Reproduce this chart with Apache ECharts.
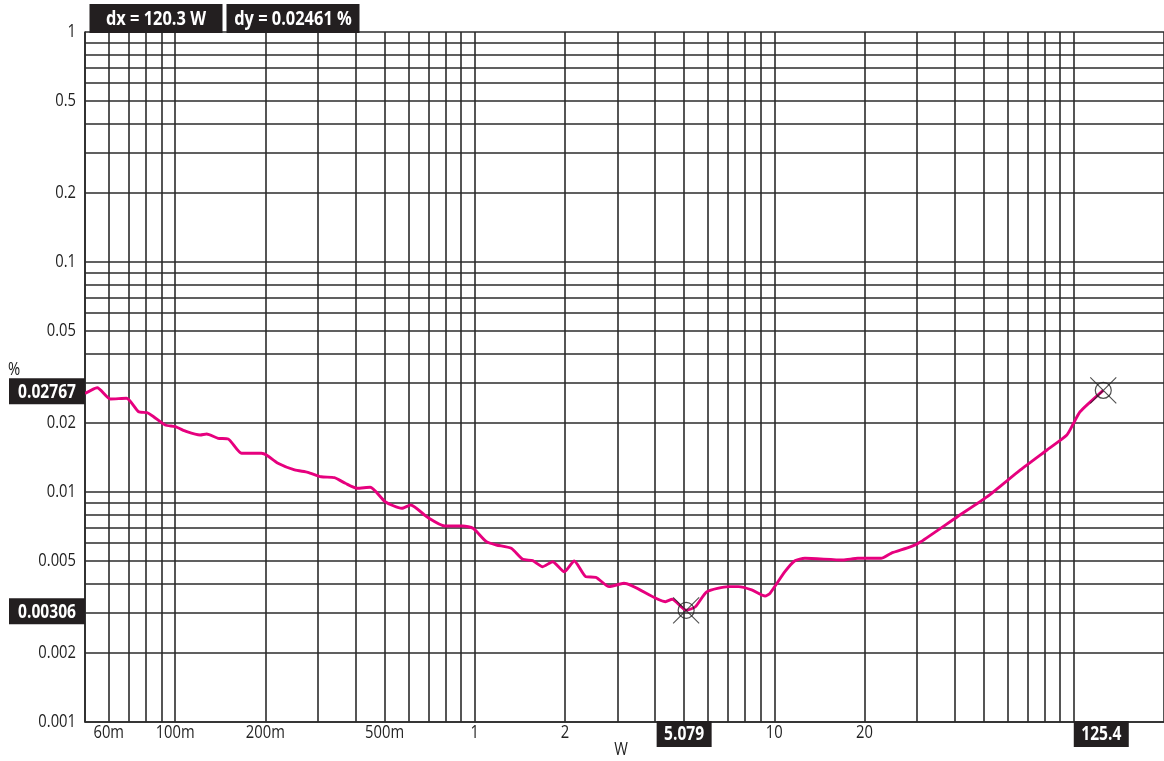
<!DOCTYPE html>
<html>
<head>
<meta charset="utf-8">
<script src="https://cdn.jsdelivr.net/npm/echarts@6/dist/echarts.min.js"></script>
<style>
  html, body { margin: 0; background: #fff; }
  #chart { width: 1164px; height: 761px; }
</style>
</head>
<body>
<div id="chart"></div>
<script>
// THD+N (%) vs output power (W)
const powerW = [0.05, 0.0549, 0.0608, 0.0688, 0.0755, 0.0805, 0.0847, 0.0926, 0.1, 0.1094,
  0.1211, 0.1274, 0.1392, 0.1503, 0.1666, 0.1941, 0.2017, 0.2204, 0.2504, 0.2773,
  0.3072, 0.3401, 0.3699, 0.4046, 0.4478, 0.5024, 0.5707, 0.6114, 0.6912, 0.795,
  0.9145, 0.987, 1.094, 1.181, 1.324, 1.447, 1.562, 1.686, 1.82, 1.991,
  2.149, 2.35, 2.537, 2.809, 3.15, 4.334, 4.559, 5.079, 5.452, 5.959,
  7.034, 7.592, 8.406, 9.314, 9.676, 10.85, 11.72, 12.65, 16.95, 19.01,
  22.73, 24.53, 28.58, 30.86, 40.87, 51.4, 66.32, 81.34, 94.78, 99.77,
  104.9, 125.4]
const thdPct = [0.0268, 0.02841, 0.02537, 0.02555, 0.02234, 0.02212, 0.02125, 0.01956, 0.01923, 0.01829,
  0.01769, 0.01787, 0.01712, 0.017, 0.01473, 0.01473, 0.01448, 0.01333, 0.01247, 0.01218,
  0.01165, 0.01154, 0.01091, 0.01038, 0.01048, 0.009075, 0.008495, 0.008781, 0.007809, 0.007115,
  0.007115, 0.006953, 0.006081, 0.005884, 0.005692, 0.005097, 0.005026, 0.004733, 0.004977, 0.004502,
  0.005012, 0.004282, 0.004256, 0.003876, 0.004009, 0.003335, 0.003416, 0.00306, 0.003171, 0.003686,
  0.003876, 0.003876, 0.00375, 0.00353, 0.003627, 0.004502, 0.005026, 0.005148, 0.005062, 0.005148,
  0.005148, 0.005413, 0.005785, 0.006081, 0.007809, 0.009541, 0.01247, 0.01523, 0.01769, 0.01989,
  0.02234, 0.02767]

const xTickValues = [0.06, 0.1, 0.2, 0.5, 1, 2, 10, 20]
const xTickLabels = ['60m', '100m', '200m', '500m', '1', '2', '10', '20']
const yTickValues = [1, 0.5, 0.2, 0.1, 0.05, 0.02, 0.01, 0.005, 0.002, 0.001]
const yTickLabels = ['1', '0.5', '0.2', '0.1', '0.05', '0.02', '0.01', '0.005', '0.002', '0.001']

// cursors
const cursorX = [5.079, 125.4]
const cursorY = [0.00306, 0.02767]
const cursorXLabels = ['5.079', '125.4']
const cursorYLabels = ['0.00306', '0.02767']
const deltaLabels = ['dx = 120.3 W', 'dy = 0.02461 %']

const X_MIN = 0.05, X_MAX = 200, Y_MIN = 0.001, Y_MAX = 1
const FONT = "'Open Sans', 'Noto Sans', sans-serif"
const SQUEEZE = 0.82 // condensed look, no narrow font installed
const GRID_COLOR = '#2b2b2b'

// 1-2-3...9 log grid lines
function logGrid(lo, hi) {
  const out = []
  for (let d = -4; d <= 3; d++) {
    for (let k = 1; k <= 9; k++) {
      const v = Number((k * Math.pow(10, d)).toPrecision(3))
      if (v >= lo && v <= hi) out.push(v)
    }
  }
  return out
}
const xGrid = logGrid(X_MIN, X_MAX)
const yGrid = logGrid(Y_MIN, Y_MAX)

const chart = echarts.init(document.getElementById('chart'))

const axisCommon = {
  type: 'log',
  logBase: 10,
  axisLine: { show: true, onZero: false, lineStyle: { color: '#222', width: 1.6 } },
  axisTick: { show: false },
  axisLabel: { show: false },
  splitLine: { show: false }
}

chart.setOption({
  animation: false,
  backgroundColor: '#fff',
  grid: { left: 85, right: -6, top: 32, bottom: 39 },
  xAxis: { ...axisCommon, min: X_MIN, max: X_MAX },
  yAxis: { ...axisCommon, min: Y_MIN, max: Y_MAX },
  series: [
    {
      type: 'line',
      z: 3,
      data: powerW.map((p, i) => [p, thdPct[i]]),
      showSymbol: false,
      smooth: 0.2,
      lineStyle: { color: '#e6007e', width: 2.9 },
      silent: true,
      markLine: {
        z: 1,
        silent: true,
        precision: 6,
        symbol: ['none', 'none'],
        label: { show: false },
        lineStyle: { color: GRID_COLOR, width: 1.6, type: 'solid' },
        data: xGrid.map(v => ({ xAxis: v })).concat(yGrid.map(v => ({ yAxis: v })))
      }
    },
    {
      type: 'scatter',
      z: 4,
      data: cursorX.map((x, i) => [x, cursorY[i]]),
      symbol: 'circle',
      symbolSize: 16,
      itemStyle: { color: 'rgba(0,0,0,0)', borderColor: '#222', borderWidth: 1.2 },
      silent: true
    },
    {
      type: 'scatter',
      z: 4,
      data: cursorX.map((x, i) => [x, cursorY[i]]),
      symbol: 'path://M0,0L10,10M0,10L10,0',
      symbolSize: 26,
      itemStyle: { color: 'rgba(0,0,0,0)', borderColor: '#222', borderWidth: 1.1 },
      silent: true
    }
  ]
})

// labels placed through the axis scales
const px = v => chart.convertToPixel({ xAxisIndex: 0 }, v)
const py = v => chart.convertToPixel({ yAxisIndex: 0 }, v)
const left = px(X_MIN)
const bottom = py(Y_MIN)
const els = []

function label(x, y, text, align, font, fill) {
  els.push({ type: 'text', x, y, z: 21, scaleX: SQUEEZE,
    style: { text, fill: fill || '#222', font: font || ('18px ' + FONT), align, verticalAlign: 'middle' } })
}

xTickValues.forEach((v, i) => label(px(v), bottom + 11, xTickLabels[i], 'center'))
yTickValues.forEach((v, i) => label(left - 9, py(v), yTickLabels[i], 'right'))

function box(cx, cy, w, h, text, size) {
  els.push({ type: 'rect', z: 20, shape: { x: cx - w / 2, y: cy - h / 2, width: w, height: h }, style: { fill: '#231f20' } })
  label(cx, cy + 1, text, 'center', 'bold ' + (size || 19) + 'px ' + FONT, '#fff')
}

cursorX.forEach((v, i) => box(px(v) - 2, bottom + 12, 55, 26, cursorXLabels[i]))
cursorY.forEach((v, i) => box(47, py(v) + 1, 76, 26, cursorYLabels[i]))
box(156, 18.5, 133, 29, deltaLabels[0], 20)
box(293, 18.5, 133, 29, deltaLabels[1], 20)

// axis names
label(14, 370, '%', 'center')
label(621, 750, 'W', 'center')

chart.setOption({ graphic: els })
</script>
</body>
</html>
